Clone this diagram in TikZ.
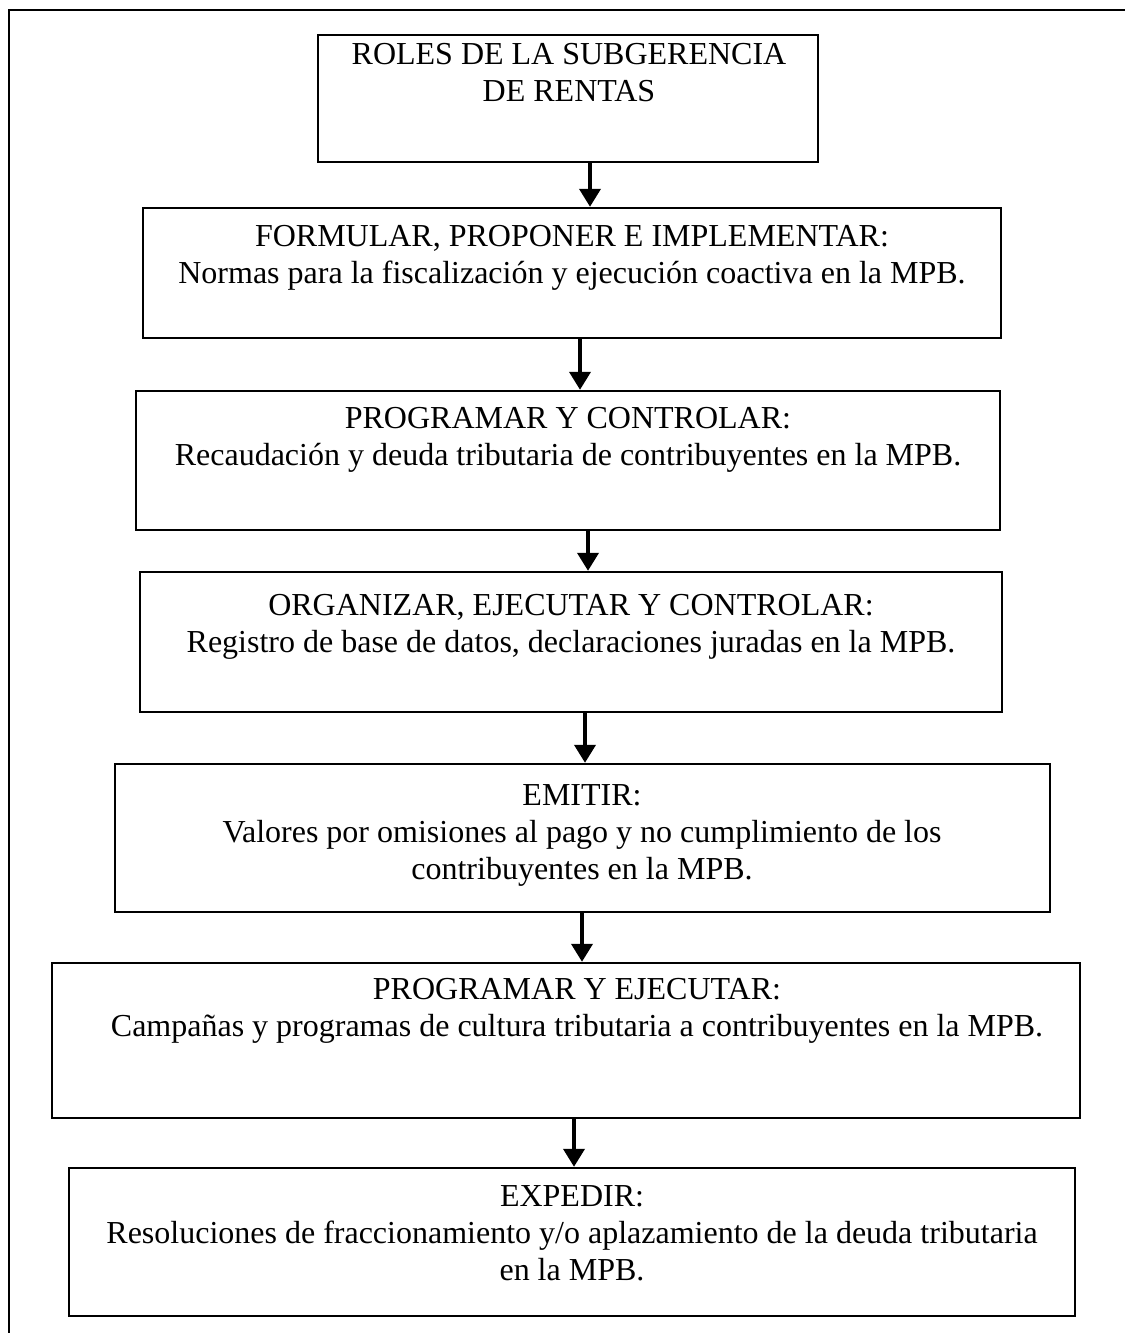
\documentclass[tikz,border=0pt]{standalone}
\usepackage{fontspec}
\setmainfont{Liberation Serif}
\usetikzlibrary{arrows.meta}
\begin{document}
\begin{tikzpicture}[x=1pt,y=-1pt,
  box/.style={draw, line width=2.4pt, inner sep=0pt},
  txt/.style={align=center, anchor=north, inner sep=0pt, font=\fontsize{32}{37}\selectfont},
  arr/.style={line width=3.8pt, -{Triangle[width=21pt,length=18pt]}}
]
\useasboundingbox (0,0) rectangle (1125,1333);
\draw[line width=2.6pt] (9,1333) -- (9,10) -- (1125,10);

\node[box, minimum width=500pt, minimum height=127pt] (b1) at (568,98.5) {};
\node[box, minimum width=858pt, minimum height=130pt] (b2) at (572,273) {};
\node[box, minimum width=864pt, minimum height=139pt] (b3) at (568,460.5) {};
\node[box, minimum width=862pt, minimum height=140pt] (b4) at (571,642) {};
\node[box, minimum width=935pt, minimum height=148pt] (b5) at (582.5,838) {};
\node[box, minimum width=1028pt, minimum height=155pt] (b6) at (566,1040.5) {};
\node[box, minimum width=1006pt, minimum height=148pt] (b7) at (572,1242) {};

\node[txt] (t1) at (569,43) {ROLES DE LA SUBGERENCIA\\DE RENTAS};
\node[txt] (t2) at (572,225) {FORMULAR, PROPONER E IMPLEMENTAR:\\Normas para la fiscalización y ejecución coactiva en la MPB.};
\node[txt] (t3) at (568,407) {PROGRAMAR Y CONTROLAR:\\Recaudación y deuda tributaria de contribuyentes en la MPB.};
\node[txt] (t4) at (571,594) {ORGANIZAR, EJECUTAR Y CONTROLAR:\\Registro de base de datos, declaraciones juradas en la MPB.};
\node[txt] (t5) at (582,784) {EMITIR:\\Valores por omisiones al pago y no cumplimiento de los\\contribuyentes en la MPB.};
\node[txt] (t6) at (577,978) {PROGRAMAR Y EJECUTAR:\\Campañas y programas de cultura tributaria a contribuyentes en la MPB.};
\node[txt] (t7) at (572,1185) {EXPEDIR:\\Resoluciones de fraccionamiento y/o aplazamiento de la deuda tributaria\\en la MPB.};

\coordinate (a1) at (590,0);
\coordinate (a2) at (580,0);
\coordinate (a3) at (588,0);
\coordinate (a4) at (585,0);
\coordinate (a5) at (582,0);
\coordinate (a6) at (574,0);
\draw[arr] (b1.south -| a1) -- (b2.north -| a1);
\draw[arr] (b2.south -| a2) -- (b3.north -| a2);
\draw[arr] (b3.south -| a3) -- (b4.north -| a3);
\draw[arr] (b4.south -| a4) -- (b5.north -| a4);
\draw[arr] (b5.south -| a5) -- (b6.north -| a5);
\draw[arr] (b6.south -| a6) -- (b7.north -| a6);
\end{tikzpicture}
\end{document}
